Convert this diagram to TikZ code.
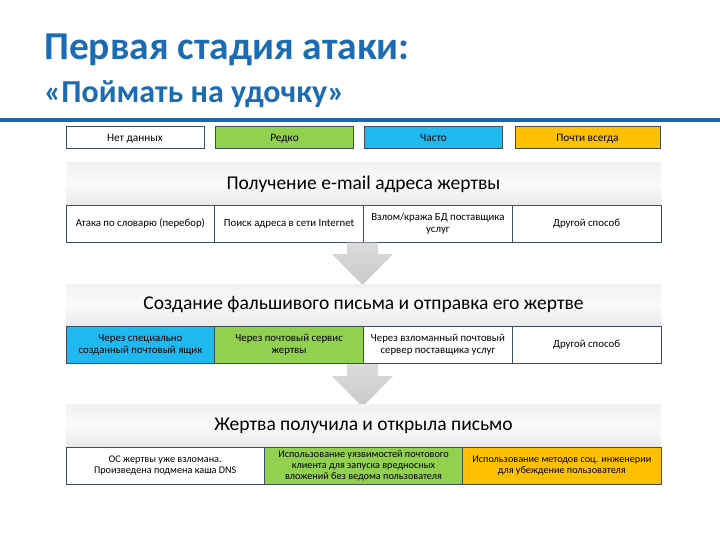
\documentclass[tikz,border=0pt]{standalone}
\usepackage{fontspec}
\setmainfont{Carlito}
\definecolor{titleblue}{HTML}{1B6CB3}
\definecolor{lineblue}{HTML}{1667AF}
\definecolor{cellgreen}{HTML}{92D050}
\definecolor{cellblue}{HTML}{1FB9EF}
\definecolor{cellyellow}{HTML}{FFC000}
\definecolor{cellborder}{HTML}{3F4E5E}
\tikzset{
    legendbox/.style={draw=cellborder, line width=0.8pt, minimum width=138pt, minimum height=22pt,
        inner sep=0pt, text height=9.5pt, text depth=1pt, font=\fontsize{11.3}{12}\selectfont},
    cell/.style={draw=cellborder, line width=0.8pt, fill=white, minimum width=148.75pt, minimum height=37pt,
        inner sep=1pt, align=center, font=\fontsize{10.8}{12}\selectfont},
    widecell/.style={cell, minimum width=198.33pt, font=\fontsize{10.2}{11}\selectfont},
    band/.style={minimum width=595pt, minimum height=42pt, inner sep=0pt,
        top color=gray!11, bottom color=gray!17, middle color=gray!4, font=\fontsize{19.5}{21}\selectfont},
    arrowshade/.style={top color=gray!28, bottom color=gray!42, draw=none}
}
\begin{document}
\begin{tikzpicture}[x=1pt, y=-1pt]
    \useasboundingbox (0,0) rectangle (720,540);
    % заголовок
    \node[anchor=base west, text=titleblue, font=\bfseries\fontsize{39.5}{44}\selectfont, inner sep=0pt]
        (title) at (44,60) {Первая стадия атаки:};
    \node[anchor=base west, text=titleblue, font=\bfseries\fontsize{32}{36}\selectfont, inner sep=0pt]
        (subtitle) at (44,103) {«Поймать на удочку»};
    \fill[lineblue] (0,118) rectangle (720,122);

    % легенда
    \node[legendbox, fill=white] (leg1) at (135,137) {Нет данных};
    \node[legendbox, fill=cellgreen] (leg2) at (284.5,137) {Редко};
    \node[legendbox, fill=cellblue] (leg3) at (433.5,137) {Часто};
    \node[legendbox, fill=cellyellow, minimum width=145pt] (leg4) at (587.5,137) {Почти всегда};

    % этап 1
    \begin{scope}
        \node[band] (band1) at (363.5,184) {Получение e-mail адреса жертвы};
        \node[cell] (c11) at (140.4,223.5) {Атака по словарю (перебор)};
        \node[cell] (c12) at (289.1,223.5) {Поиск адреса в сети Internet};
        \node[cell] (c13) at (437.9,223.5) {Взлом/кража БД поставщика\\услуг};
        \node[cell] (c14) at (586.6,223.5) {Другой способ};
    \end{scope}
    \shade[arrowshade] (347,242.5) -- (378,242.5) -- (378,254) -- (393,254) -- (362.5,285)
        -- (332,254) -- (347,254) -- cycle;

    % этап 2
    \begin{scope}
        \node[band] (band2) at (363.5,305) {Создание фальшивого письма и отправка его жертве};
        \node[cell, fill=cellblue] (c21) at (140.4,345) {Через специально\\созданный почтовый ящик};
        \node[cell, fill=cellgreen] (c22) at (289.1,345) {Через почтовый сервис\\жертвы};
        \node[cell] (c23) at (437.9,345) {Через взломанный почтовый\\сервер поставщика услуг};
        \node[cell] (c24) at (586.6,345) {Другой способ};
    \end{scope}
    \shade[arrowshade] (347,364) -- (378,364) -- (378,376) -- (393,376) -- (362.5,407)
        -- (332,376) -- (347,376) -- cycle;

    % этап 3
    \begin{scope}
        \node[band] (band3) at (363.5,425.5) {Жертва получила и открыла письмо};
        \node[widecell] (c31) at (165.2,465.5) {ОС жертвы уже взломана.\\Произведена подмена каша DNS};
        \node[widecell, fill=cellgreen] (c32) at (363.5,465.5)
            {Использование уязвимостей почтового\\клиента для запуска вредносных\\вложений без ведома пользователя};
        \node[widecell, fill=cellyellow] (c33) at (561.8,465.5)
            {Использование методов соц. инженерии\\для убеждение пользователя};
    \end{scope}
\end{tikzpicture}
\end{document}
